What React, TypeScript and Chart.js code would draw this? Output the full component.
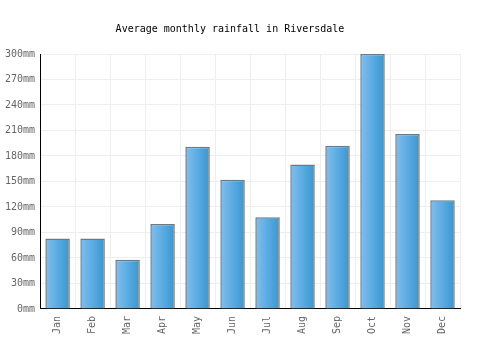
import React, { useEffect, useRef } from "react";
import { Chart, registerables } from "chart.js";

Chart.register(...registerables);

const categories = ["Jan", "Feb", "Mar", "Apr", "May", "Jun", "Jul", "Aug", "Sep", "Oct", "Nov", "Dec"];
const rainfall = [83, 83, 58, 100, 191, 152, 108, 170, 192, 300, 206, 128];
const yTicks = [0, 30, 60, 90, 120, 150, 180, 210, 240, 270, 300];

const FONT = "'DejaVu Sans Mono', monospace";

export default function App() {
  const ref = useRef<HTMLCanvasElement | null>(null);
  useEffect(() => {
    document.body.style.margin = "0";
    const canvas = ref.current!;
    const BAR_PCT = 0.7;
    const chart = new Chart(canvas, {
      type: "bar",
      data: {
        labels: categories,
        datasets: [
          {
            data: rainfall,
            borderColor: "#777777",
            borderWidth: 1.5,
            barPercentage: BAR_PCT,
            categoryPercentage: 1,
            backgroundColor: (ctx: any) => {
              const c = ctx.chart;
              const xs = c.scales?.x;
              const area = c.chartArea;
              if (!xs || !area) return "#5aa8e0";
              const cx = xs.getPixelForValue(ctx.dataIndex);
              const hw = ((area.right - area.left) / categories.length) * BAR_PCT / 2;
              const g = c.ctx.createLinearGradient(cx - hw, 0, cx + hw, 0);
              g.addColorStop(0, "#82bfef");
              g.addColorStop(1, "#3597d2");
              return g;
            },
          },
        ],
      },
      options: {
        animation: false,
        responsive: false,
        layout: { padding: { left: 0, right: 40, top: 0, bottom: 9 } },
        plugins: {
          legend: { display: false },
          tooltip: { enabled: false },
          title: {
            display: true,
            text: "Average monthly rainfall in Riversdale",
            color: "#000",
            font: { family: FONT, size: 10, weight: "normal" },
            padding: { top: 23, bottom: 19 },
          },
        },
        scales: {
          x: {
            offset: true,
            grid: { color: "#eeeeee", offset: true, drawTicks: false },
            border: { color: "#000", width: 1 },
            ticks: {
              color: "#666",
              font: { family: FONT, size: 10 },
              maxRotation: 90,
              minRotation: 90,
              padding: 7,
            },
          },
          y: {
            min: 0,
            max: 300,
            afterBuildTicks: (axis: any) => {
              axis.ticks = yTicks.map((v) => ({ value: v }));
            },
            grid: { color: "#eeeeee", drawTicks: false },
            border: { color: "#000", width: 1 },
            ticks: {
              color: "#666",
              font: { family: FONT, size: 10 },
              padding: 5,
              callback: (v: any) => v + "mm",
            },
          },
        },
      },
    } as any);
    return () => chart.destroy();
  }, []);
  return (
    <div style={{ width: 500, height: 350 }}>
      <canvas ref={ref} width={500} height={350} />
    </div>
  );
}
